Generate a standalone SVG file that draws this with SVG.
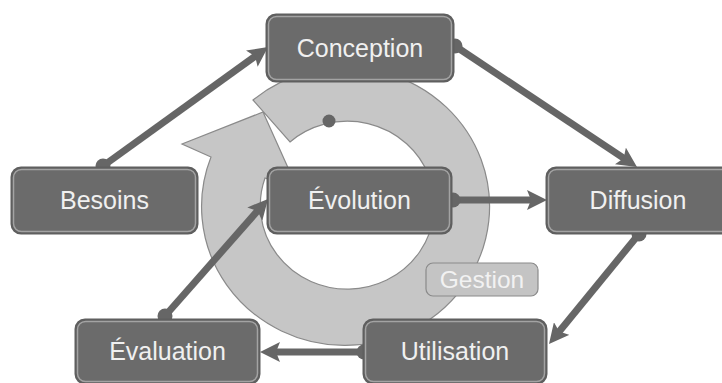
<svg xmlns="http://www.w3.org/2000/svg" width="722" height="383" viewBox="0 0 722 383">
<defs>
<style>
.box rect.o{fill:#6b6b6b;stroke:#5f5f5f;stroke-width:3}
.box rect.i{fill:none;stroke:#a3a3a3;stroke-width:1.5}
.box text{font-family:"Liberation Sans",Arial,sans-serif;font-size:25px;fill:#f0f0f0;text-anchor:middle}
.con line{stroke:#666;stroke-width:7;marker-end:url(#ah)}
.con circle{fill:#666}
.ring{fill:#c6c6c6;stroke:#8a8a8a;stroke-width:1.2}
</style>
<marker id="ah" markerUnits="userSpaceOnUse" viewBox="0 0 20 20" markerWidth="20" markerHeight="20" refX="8" refY="10" orient="auto">
<path d="M0,0 L20,10 L0,20 L4,10 Z" fill="#666"/>
</marker>
</defs>
<rect width="722" height="383" fill="#ffffff"/>
<g id="cycle">
<path class="ring" d="M253,100 A144,139 0 1 1 211,157 L182,144 L263,112 L298,190 L265,178 A87,84 0 1 0 290,142 Z"/>
<circle cx="329" cy="121" r="6.5" fill="#666"/>
</g>
<g id="connectors" class="con">
<line x1="103" y1="166" x2="258.3" y2="54"/>
<circle cx="103" cy="166" r="7.5"/>
<line x1="455" y1="46" x2="627" y2="160.4"/>
<circle cx="455" cy="46" r="7.5"/>
<line x1="453" y1="200" x2="535" y2="200"/>
<circle cx="453" cy="200" r="7.5"/>
<line x1="639" y1="234" x2="556.6" y2="334.7"/>
<circle cx="639" cy="234" r="7.5"/>
<line x1="364" y1="352" x2="272" y2="352"/>
<circle cx="364" cy="352" r="7.5"/>
<line x1="165" y1="316" x2="260.1" y2="208"/>
<circle cx="165" cy="316" r="7.5"/>
</g>
<g id="conception" class="box">
<rect class="o" x="267" y="15" width="186" height="66" rx="9"/>
<rect class="i" x="268.5" y="16.5" width="183" height="63" rx="8"/>
<text x="360" y="57">Conception</text>
</g>
<g id="besoins" class="box">
<rect class="o" x="12" y="168" width="185" height="65" rx="9"/>
<rect class="i" x="13.5" y="169.5" width="182" height="62" rx="8"/>
<text x="104.5" y="209">Besoins</text>
</g>
<g id="evolution" class="box">
<rect class="o" x="268" y="168" width="183" height="65" rx="9"/>
<rect class="i" x="269.5" y="169.5" width="180" height="62" rx="8"/>
<text x="359.5" y="209">Évolution</text>
</g>
<g id="diffusion" class="box">
<rect class="o" x="547" y="168" width="185" height="65" rx="9"/>
<rect class="i" x="548.5" y="169.5" width="182" height="62" rx="8"/>
<text x="638" y="209">Diffusion</text>
</g>
<g id="evaluation" class="box">
<rect class="o" x="76" y="320" width="183" height="63" rx="9"/>
<rect class="i" x="77.5" y="321.5" width="180" height="60" rx="8"/>
<text x="167.5" y="360">Évaluation</text>
</g>
<g id="utilisation" class="box">
<rect class="o" x="364" y="320" width="182" height="63" rx="9"/>
<rect class="i" x="365.5" y="321.5" width="179" height="60" rx="8"/>
<text x="455" y="360">Utilisation</text>
</g>
<g id="gestion">
<rect x="426" y="263" width="112" height="33" rx="7" fill="#c4c4c4" stroke="#8a8a8a" stroke-width="1.2"/>
<text x="482" y="287.5" font-family="Liberation Sans, Arial, sans-serif" font-size="24.5" fill="#f2f2f2" text-anchor="middle">Gestion</text>
</g>
</svg>
